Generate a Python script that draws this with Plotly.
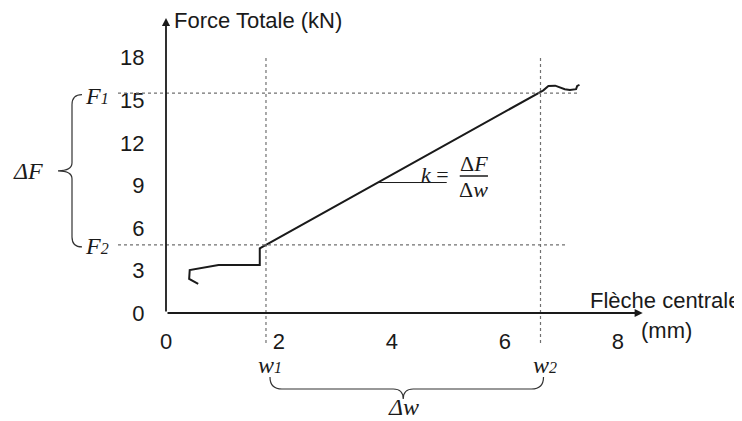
import plotly.graph_objects as go

# ---------------- data ----------------
X_TICKS = [0, 2, 4, 6, 8]
Y_TICKS = [0, 3, 6, 9, 12, 15, 18]

DEFLECTION_MM = [0.57, 0.41, 0.42, 0.93, 1.66, 1.66, 6.68, 6.77, 6.89, 6.97, 7.06, 7.15, 7.26, 7.28, 7.32]
FORCE_KN = [2.05, 2.40, 3.03, 3.39, 3.39, 4.56, 15.70, 16.00, 16.03, 15.92, 15.78, 15.73, 15.78, 16.01, 16.08]

F1 = 15.5   # upper force of the linear range
F2 = 4.8    # lower force of the linear range
W1 = 1.77   # deflection at F2
W2 = 6.63   # deflection at F1

SLOPE_X = [3.75, 4.97]   # horizontal leg of the slope marker
SLOPE_Y = [9.2, 9.2]

XMAX = 8.48
YMAX = 20.8

# ---------------- geometry helpers ----------------
OFF = 8                       # page body margin
SW, SH = 742, 421             # screen size
W, H = SW - OFF, SH - OFF     # figure size
# plot area in screen pixels
SL, ST, SR, SB = 166, 18, 645, 313
L, T = SL - OFF, ST - OFF
R, B = W - (SR - OFF), H - (SB - OFF)
PW, PH = SR - SL, SB - ST


def px2paper_x(px):          # screen px -> paper fraction
    return (px - SL) / PW


def px2paper_y(py):
    return (SB - py) / PH


def d2px_x(v):               # data -> screen px
    return SL + v / XMAX * PW


def d2px_y(v):
    return SB - v / YMAX * PH


def path_px(cmds):
    out = []
    for c, pts in cmds:
        out.append(c + " " + " ".join(f"{px2paper_x(x):.5f},{px2paper_y(y):.5f}" for x, y in pts))
    return " ".join(out)


SANS = "Liberation Sans, Arial, sans-serif"
SERIF = "Liberation Serif, Times New Roman, serif"
INK = "#1a1a1a"
DASH = "#707070"

fig = go.Figure()

fig.add_trace(go.Scatter(
    x=DEFLECTION_MM, y=FORCE_KN, mode="lines",
    line=dict(color=INK, width=2), showlegend=False, hoverinfo="skip"))

fig.add_trace(go.Scatter(
    x=SLOPE_X, y=SLOPE_Y, mode="lines",
    line=dict(color=INK, width=1), showlegend=False, hoverinfo="skip"))

shapes = []
for fv, xend in [(F1, 7.29), (F2, 7.10)]:
    shapes.append(dict(type="line", xref="paper", yref="y",
                       x0=px2paper_x(118), x1=xend / XMAX, y0=fv, y1=fv,
                       line=dict(color=DASH, width=1.2, dash="3px,3px")))
for wv in [W1, W2]:
    shapes.append(dict(type="line", xref="x", yref="paper",
                       x0=wv, x1=wv, y0=px2paper_y(343), y1=px2paper_y(55),
                       line=dict(color=DASH, width=1.2, dash="3px,3px")))

# left brace (ΔF)
yt, yb = d2px_y(F1) + 1.5, d2px_y(F2) + 2
cy = (yt + yb) / 2
xe, xv, xc = 82, 72, 58
left_brace = path_px([
    ("M", [(xe, yt)]), ("Q", [(xv, yt), (xv, yt + 10)]),
    ("L", [(xv, cy - 8)]), ("Q", [(xv, cy), (xc, cy)]),
    ("Q", [(xv, cy), (xv, cy + 8)]),
    ("L", [(xv, yb - 10)]), ("Q", [(xv, yb), (xe, yb)]),
])
shapes.append(dict(type="path", xref="paper", yref="paper", path=left_brace,
                   line=dict(color="#333", width=1.2)))

# bottom brace (Δw)
xl, xr = d2px_x(W1) + 4, d2px_x(W2) + 3
cx = d2px_x((W1 + W2) / 2)
ye, yh, yc = 377, 389, 399
bottom_brace = path_px([
    ("M", [(xl, ye)]), ("Q", [(xl, yh), (xl + 12, yh)]),
    ("L", [(cx - 10, yh)]), ("Q", [(cx, yh), (cx, yc)]),
    ("Q", [(cx, yh), (cx + 10, yh)]),
    ("L", [(xr - 12, yh)]), ("Q", [(xr, yh), (xr, ye)]),
])
shapes.append(dict(type="path", xref="paper", yref="paper", path=bottom_brace,
                   line=dict(color="#333", width=1.2)))

# fraction bar of k = ΔF/Δw
shapes.append(dict(type="line", xref="x", yref="y", x0=5.20, x1=5.70, y0=9.66, y1=9.66,
                   line=dict(color=INK, width=1.5)))

fig.update_layout(shapes=shapes)

ann = []
# axis arrows
for (x, y) in [(XMAX - 0.04, 0), (0, YMAX)]:
    ann.append(dict(x=x, y=y, ax=0, ay=0, xref="x", yref="y", axref="x", ayref="y",
                    text="", showarrow=True, arrowhead=2, arrowsize=0.9, arrowwidth=1.8,
                    arrowcolor=INK, standoff=0, startstandoff=0))

sans_font = dict(family=SANS, size=22, color=INK)
ann.append(dict(text="Force Totale (kN)", xref="x", yref="paper", x=0.11, y=px2paper_y(20),
                xanchor="left", yanchor="middle", showarrow=False, font=sans_font))
ann.append(dict(text="Flèche centrale", xref="paper", yref="paper", x=px2paper_x(588),
                y=px2paper_y(300), xanchor="left", yanchor="middle", showarrow=False,
                font=sans_font))
ann.append(dict(text="(mm)", xref="paper", yref="paper", x=px2paper_x(639),
                y=px2paper_y(330), xanchor="left", yanchor="middle", showarrow=False,
                font=sans_font))

serif_font = dict(family=SERIF, size=24, color=INK)
SUB = "<span style='font-size:16px'><i>{}</i></span>"
common = dict(showarrow=False, font=serif_font, xanchor="center", yanchor="middle")
ann.append(dict(text="<i>F</i>" + SUB.format(1), xref="paper", yref="y", x=px2paper_x(97),
                y=F1, yshift=-3, **common))
ann.append(dict(text="<i>F</i>" + SUB.format(2), xref="paper", yref="y", x=px2paper_x(97),
                y=F2, yshift=-1, **common))
ann.append(dict(text="<i>ΔF</i>", xref="paper", yref="y", x=px2paper_x(28),
                y=(F1 + F2) / 2, yshift=-2, **common))
ann.append(dict(text="<i>w</i>" + SUB.format(1), xref="x", yref="paper", x=W1, xshift=4,
                y=px2paper_y(365), **common))
ann.append(dict(text="<i>w</i>" + SUB.format(2), xref="x", yref="paper", x=W2, xshift=4,
                y=px2paper_y(365), **common))
ann.append(dict(text="<i>Δw</i>", xref="x", yref="paper", x=(W1 + W2) / 2,
                y=px2paper_y(407), **common))

kfont = dict(family=SERIF, size=22, color=INK)
kcommon = dict(showarrow=False, font=kfont, xanchor="center", yanchor="middle")
ann.append(dict(text="<i>k</i> =", xref="x", yref="y", x=4.76, y=9.75, **kcommon))
ann.append(dict(text="Δ<i>F</i>", xref="x", yref="y", x=5.45, y=10.55, **kcommon))
ann.append(dict(text="Δ<i>w</i>", xref="x", yref="y", x=5.45, y=8.72, **kcommon))

fig.update_layout(annotations=ann)

fig.update_layout(
    width=W, height=H, autosize=False,
    margin=dict(l=L, r=R, t=T, b=B, pad=0),
    paper_bgcolor="white", plot_bgcolor="white",
    showlegend=False,
    xaxis=dict(range=[0, XMAX], tickvals=X_TICKS, ticktext=[str(v) for v in X_TICKS],
               showgrid=False, zeroline=False, showline=False,
               ticks="outside", ticklen=9, tickcolor="rgba(0,0,0,0)",
               tickfont=sans_font, fixedrange=True),
    yaxis=dict(range=[0, YMAX], tickvals=Y_TICKS, ticktext=[str(v) for v in Y_TICKS],
               showgrid=False, zeroline=False, showline=False,
               ticks="outside", ticklen=16, tickcolor="rgba(0,0,0,0)",
               tickfont=sans_font, fixedrange=True),
)

fig.write_html("out.html")
